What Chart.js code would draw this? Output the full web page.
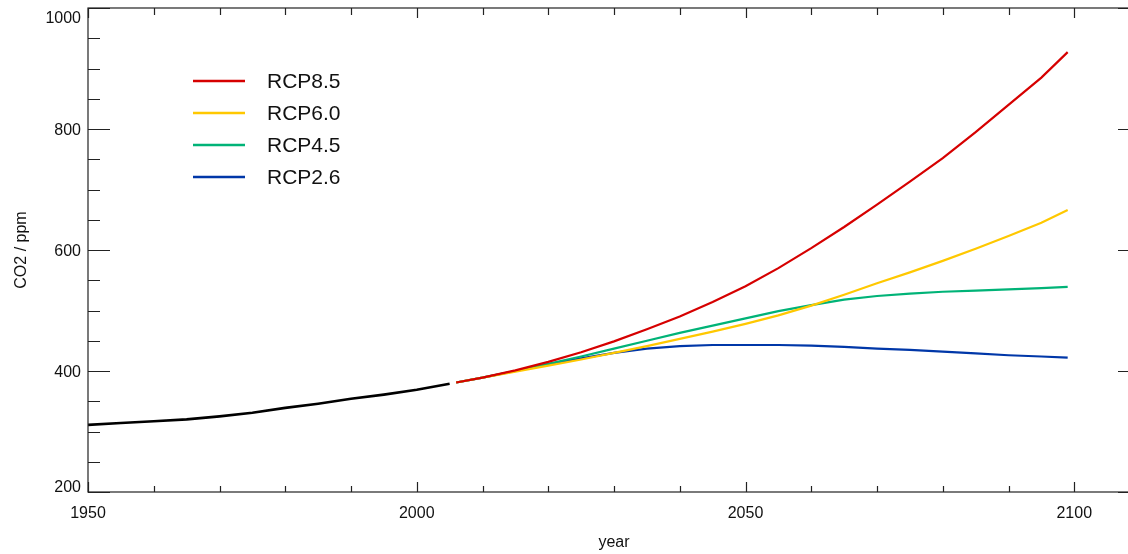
<!DOCTYPE html>
<html>
<head>
<meta charset="utf-8">
<script src="https://cdn.jsdelivr.net/npm/chart.js@4"></script>
<style>
  html, body { margin: 0; padding: 0; background: #fff; width: 1128px; height: 554px; overflow: hidden; }
</style>
</head>
<body>
<canvas id="co2" width="1150" height="554"></canvas>
<script>
/* data */
////////////////////////////////////////////////////////////
const histYears = [1950, 1955, 1960, 1965, 1970, 1975, 1980, 1985, 1990, 1995, 2000, 2005];
const histCO2   = [311, 314, 317, 320, 325, 331, 339, 346, 354, 361, 369, 379];

const rcpYears = [2006, 2010, 2015, 2020, 2025, 2030, 2035, 2040, 2045, 2050,
                  2055, 2060, 2065, 2070, 2075, 2080, 2085, 2090, 2095, 2099];
const rcp85 = [381, 389, 401, 415, 431, 449, 469, 490, 514, 540, 570, 603, 638, 675, 713, 752, 795, 840, 885, 927];
const rcp60 = [381, 389, 399, 409, 419, 430, 441, 453, 465, 478, 492, 508, 526, 545, 563, 582, 602, 623, 645, 666];
const rcp45 = [381, 389, 400, 412, 424, 437, 450, 463, 475, 487, 499, 509, 518, 524, 528, 531, 533, 535, 537, 539];
const rcp26 = [381, 389, 400, 411, 421, 430, 437, 441, 443, 443, 443, 442, 440, 437, 435, 432, 429, 426, 424, 422];

const seriesNames = ['RCP8.5', 'RCP6.0', 'RCP4.5', 'RCP2.6'];
const xTickLabels = [1950, 2000, 2050, 2100];
const yTickLabels = [200, 400, 600, 800, 1000];

const colors = ['#d60000', '#ffc800', '#00b377', '#0037a8'];
const FONT = '"Liberation Sans", Arial, Helvetica, sans-serif';

function pairs(xs, ys) {
  return xs.map((x, i) => ({ x: x, y: ys[i] }));
}

const rcpSets = [rcp85, rcp60, rcp45, rcp26].map((vals, i) => ({
  label: seriesNames[i],
  data: pairs(rcpYears, vals),
  borderColor: colors[i],
  borderWidth: 2.2,
  pointRadius: 0,
  tension: 0,
  inLegend: true
}));

const datasets = rcpSets.concat([{
  label: 'observed',
  data: pairs(histYears, histCO2),
  borderColor: '#000',
  borderWidth: 2.6,
  pointRadius: 0,
  tension: 0,
  inLegend: false
}]);

/* box, inward ticks, y labels and legend */
////////////////////////////////////////////////////////////
const idlFrame = {
  id: 'idlFrame',
  afterDraw(chart) {
    const ctx = chart.ctx;
    const a = chart.chartArea;
    const xs = chart.scales.x;
    const ys = chart.scales.y;
    ctx.save();
    ctx.strokeStyle = '#222';
    ctx.lineWidth = 1.2;
    ctx.strokeRect(a.left, a.top, a.right - a.left, a.bottom - a.top);

    ctx.beginPath();
    for (let yr = 1950; yr <= 2110; yr += 10) {
      const px = Math.round(xs.getPixelForValue(yr)) + 0.5;
      const big = yr % 50 === 0;
      const lb = big ? 10 : 6;
      const lt = big ? 10 : 7;
      ctx.moveTo(px, a.bottom); ctx.lineTo(px, a.bottom - lb);
      ctx.moveTo(px, a.top); ctx.lineTo(px, a.top + lt);
    }
    for (let v = 200; v <= 1000; v += 50) {
      const py = Math.round(ys.getPixelForValue(v)) + 0.5;
      const len = v % 200 === 0 ? 22 : 12;
      ctx.moveTo(a.left, py); ctx.lineTo(a.left + len, py);
      ctx.moveTo(a.right, py); ctx.lineTo(a.right - len, py);
    }
    ctx.stroke();

    // y tick labels, kept inside the axis at both ends
    ctx.fillStyle = '#111';
    ctx.font = '16px ' + FONT;
    ctx.textAlign = 'right';
    ctx.textBaseline = 'alphabetic';
    yTickLabels.forEach(v => {
      let base = ys.getPixelForValue(v) + 6;
      base = Math.min(base, a.bottom);
      base = Math.max(base, a.top + 15);
      ctx.fillText(String(v), a.left - 7, base);
    });

    // legend
    ctx.font = '21px ' + FONT;
    ctx.textAlign = 'left';
    ctx.textBaseline = 'middle';
    let row = 0;
    chart.data.datasets.forEach(ds => {
      if (!ds.inLegend) return;
      const y = 81 + row * 32;
      ctx.strokeStyle = ds.borderColor;
      ctx.lineWidth = 2.5;
      ctx.beginPath();
      ctx.moveTo(193, y); ctx.lineTo(245, y);
      ctx.stroke();
      ctx.fillStyle = '#111';
      ctx.fillText(ds.label, 267, y + 1);
      row++;
    });
    ctx.restore();
  }
};

/* chart */
////////////////////////////////////////////////////////////
const ctx = document.getElementById('co2').getContext('2d');
const chart = new Chart(ctx, {
  type: 'line',
  data: { datasets: datasets },
  options: {
    responsive: false,
    animation: false,
    layout: { padding: { top: 8, right: 10, left: 0, bottom: 0 } },
    plugins: { legend: { display: false }, tooltip: { enabled: false } },
    scales: {
      x: {
        type: 'linear',
        min: 1950,
        max: 2110,
        afterFit: s => { s.height = 62; },
        afterBuildTicks: s => { s.ticks = xTickLabels.map(v => ({ value: v })); },
        grid: { display: false, drawTicks: false },
        border: { display: false },
        ticks: {
          padding: 12,
          color: '#111',
          font: { family: FONT, size: 16 },
          maxRotation: 0,
          callback: v => String(v)
        },
        title: {
          display: true,
          text: 'year',
          color: '#111',
          font: { family: FONT, size: 16 },
          padding: { top: 0, bottom: 2 }
        }
      },
      y: {
        min: 200,
        max: 1000,
        afterFit: s => { s.width = 88; },
        grid: { display: false, drawTicks: false },
        border: { display: false },
        ticks: { display: false },
        title: {
          display: true,
          text: 'CO2 / ppm',
          color: '#111',
          font: { family: FONT, size: 16 },
          padding: { top: 12, bottom: 0 }
        }
      }
    }
  },
  plugins: [idlFrame]
});
</script>
</body>
</html>
